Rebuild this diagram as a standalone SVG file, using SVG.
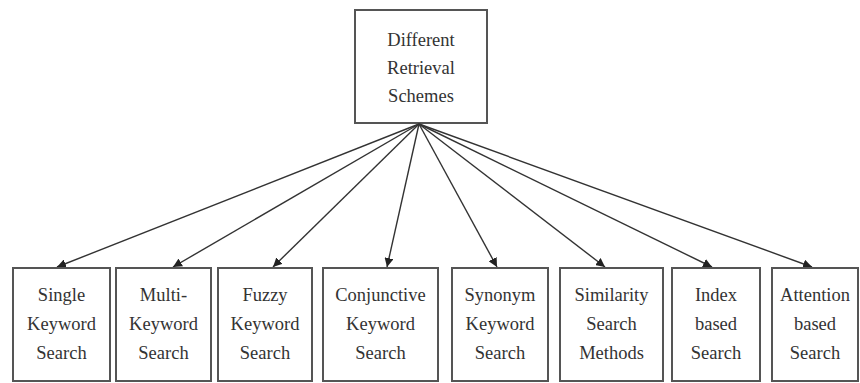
<svg xmlns="http://www.w3.org/2000/svg" width="860" height="383" viewBox="0 0 860 383">
<defs>
<marker id="ah" viewBox="0 0 10 10" refX="10" refY="5" markerWidth="9" markerHeight="9" markerUnits="userSpaceOnUse" orient="auto">
<path d="M0,0 L10,5 L0,10 z" fill="#222"/>
</marker>
<style>
.box{fill:#fff;stroke:#555;stroke-width:2}
.t{font-family:'Times New Roman',Times,'Liberation Serif',serif;font-size:18.5px;fill:#333;text-anchor:middle}
.c{stroke:#333;stroke-width:1.4;fill:none;marker-end:url(#ah)}
</style>
</defs>
<rect width="860" height="383" fill="#fff"/>
<g id="root">
<rect class="box" x="355" y="10" width="132" height="113"/>
<text class="t" x="421" y="46">Different</text>
<text class="t" x="421" y="74">Retrieval</text>
<text class="t" x="421" y="102">Schemes</text>
</g>
<g id="connectors">
<line class="c" x1="419" y1="124" x2="57" y2="267"/>
<line class="c" x1="419" y1="124" x2="173" y2="267"/>
<line class="c" x1="419" y1="124" x2="273" y2="267"/>
<line class="c" x1="419" y1="124" x2="387" y2="267"/>
<line class="c" x1="419" y1="124" x2="497" y2="267"/>
<line class="c" x1="419" y1="124" x2="605" y2="267"/>
<line class="c" x1="419" y1="124" x2="712" y2="267"/>
<line class="c" x1="419" y1="124" x2="812" y2="267"/>
</g>
<g id="n1">
<rect class="box" x="13" y="268" width="97" height="113"/>
<text class="t" x="61.5" y="301">Single</text>
<text class="t" x="61.5" y="330">Keyword</text>
<text class="t" x="61.5" y="359">Search</text>
</g>
<g id="n2">
<rect class="box" x="116" y="268" width="95" height="113"/>
<text class="t" x="163.5" y="301">Multi-</text>
<text class="t" x="163.5" y="330">Keyword</text>
<text class="t" x="163.5" y="359">Search</text>
</g>
<g id="n3">
<rect class="box" x="218" y="268" width="94" height="113"/>
<text class="t" x="265" y="301">Fuzzy</text>
<text class="t" x="265" y="330">Keyword</text>
<text class="t" x="265" y="359">Search</text>
</g>
<g id="n4">
<rect class="box" x="323" y="268" width="115" height="113"/>
<text class="t" x="380.5" y="301">Conjunctive</text>
<text class="t" x="380.5" y="330">Keyword</text>
<text class="t" x="380.5" y="359">Search</text>
</g>
<g id="n5">
<rect class="box" x="452" y="268" width="96" height="113"/>
<text class="t" x="500" y="301">Synonym</text>
<text class="t" x="500" y="330">Keyword</text>
<text class="t" x="500" y="359">Search</text>
</g>
<g id="n6">
<rect class="box" x="560" y="268" width="103" height="113"/>
<text class="t" x="611.5" y="301">Similarity</text>
<text class="t" x="611.5" y="330">Search</text>
<text class="t" x="611.5" y="359">Methods</text>
</g>
<g id="n7">
<rect class="box" x="672" y="268" width="88" height="113"/>
<text class="t" x="716" y="301">Index</text>
<text class="t" x="716" y="330">based</text>
<text class="t" x="716" y="359">Search</text>
</g>
<g id="n8">
<rect class="box" x="772" y="268" width="86" height="113"/>
<text class="t" x="815" y="301">Attention</text>
<text class="t" x="815" y="330">based</text>
<text class="t" x="815" y="359">Search</text>
</g>
</svg>
